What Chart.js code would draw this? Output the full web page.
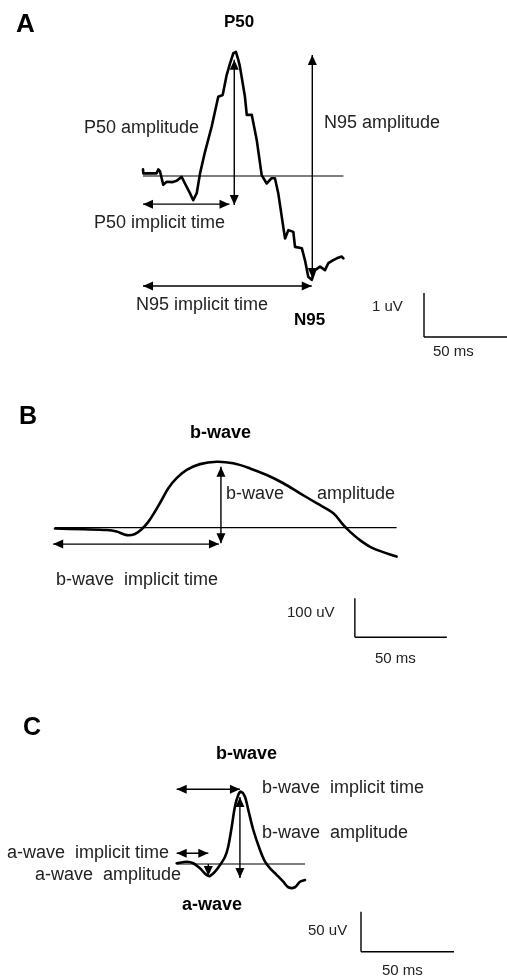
<!doctype html>
<html lang="en">
<head>
  <meta charset="utf-8">
  <title>PERG and ERG measurements</title>
  <script src="https://cdn.jsdelivr.net/npm/chart.js"></script>
  <style>
    html, body { margin: 0; padding: 0; background: #fff; }
    body { width: 507px; height: 978px; position: relative; overflow: hidden; }
    canvas { position: absolute; left: 0; display: block; }
  </style>
</head>
<body>
  <canvas id="panelA" width="507" height="380" style="top:0"></canvas>
  <canvas id="panelB" width="507" height="300" style="top:380px"></canvas>
  <canvas id="panelC" width="507" height="298" style="top:680px"></canvas>
  <script>
    // A: pattern ERG (ms / uV)
    const pergTime = [0, 0.2, 7.4, 8.3, 9.2, 11.0, 12.9, 15.8, 18.3, 21.0, 22.8, 25.5, 27.3, 29.2, 31.0,
      33.7, 37.3, 39.1, 40.9, 43.3, 45.5, 47.3, 49.1, 50.5, 51.8, 52.7, 55.4, 56.4, 59.1, 61.8,
      64.5, 67.2, 69.9, 71.7, 73.5, 76.2, 77.2, 79.0, 81.7, 82.6, 86.3, 88.0, 89.8, 91.7, 93.5,
      96.2, 98.9, 100.7, 103.4, 105.3, 108.0, 108.9];
    const pergVolt = [0.15, 0.06, 0.06, 0.15, 0.11, -0.20, -0.13, -0.14, -0.11, -0.02, -0.17, -0.39, -0.55, -0.39, 0.06,
      0.55, 1.12, 1.46, 1.80, 1.84, 2.30, 2.56, 2.79, 2.82, 2.64, 2.48, 1.80, 1.39, 1.39, 0.82,
      0.02, -0.17, -0.05, -0.05, -0.39, -1.15, -1.42, -1.23, -1.27, -1.61, -1.64, -1.91, -2.29, -2.36, -2.14,
      -2.06, -2.14, -1.98, -1.91, -1.87, -1.83, -1.87];

    // B: flash ERG b-wave (ms / uV)
    const bTime = [0, 15.4, 28.1, 33.5, 39.0, 43.5, 47.1, 50.7, 54.3, 58.0, 61.6, 66.1, 71.6, 78.8,
      87.9, 96.9, 106.0, 115.1, 124.1, 133.2, 142.2, 151.3, 156.7, 160.3, 165.8, 173.0, 185.7];
    const bVolt = [-2, -4, -6, -10, -19, -16, -4, 15, 41, 71, 101, 127, 148, 163,
      169, 165, 152, 135, 114, 88, 63, 37, 7, -10, -32, -53, -74];

    // C: flash ERG a- and b-wave (ms / uV)
    const cTime = [0, 5.4, 8.9, 12.5, 16.1, 17.9, 20.6, 23.3, 26.0, 27.7, 29.6, 31.3, 33.1, 34.6,
      36.7, 38.5, 41.2, 44.8, 47.5, 50.2, 53.8, 57.3, 60.0, 63.6, 66.3, 69.0];
    const cVolt = [0.9, 2.9, 0.9, -5.4, -13.8, -15, -9.6, -1.3, 9.1, 21.6, 46.6, 71.6, 86.3, 90.4,
      84.1, 67.5, 42.5, 17.5, 2.9, -5.4, -13.8, -22.1, -29.1, -29.1, -22.1, -20];

    // measurement arrows [x1, y1, x2, y2, headAtStart, headAtEnd]
    const pergArrows = [
      [49.6, 2.64, 49.6, -0.66, true, true],   // P50 amplitude
      [92.0, 2.75, 92.0, -2.32, true, true],   // N95 amplitude
      [0, -0.64, 47.0, -0.64, true, true],     // P50 implicit time
      [0, -2.5, 91.7, -2.5, true, true]        // N95 implicit time
    ];
    const bArrows = [
      [90.2, 156, 90.2, -40, true, true],
      [-1, -42, 89.1, -42, true, true]
    ];
    const cArrows = [
      [34.0, 83.8, 34.0, -17.5, true, true],
      [0, 93.4, 34.0, 93.4, true, true],
      [0, 13.4, 17.0, 13.4, true, true],
      [17.0, 0, 17.0, -15, false, true]
    ];

    // calibration bars: [ms, uV]
    const pergBar = [50, 1];
    const bBar = [50, 100];
    const cBar = [50, 50];

    const FONT = '"Liberation Sans", Arial, sans-serif';

    function seg(x1, y1, x2, y2, w) {
      return {
        data: [{ x: x1, y: y1 }, { x: x2, y: y2 }],
        borderColor: '#000', borderWidth: w, pointRadius: 0, tension: 0
      };
    }

    function makePanel(id, opt) {
      const trace = opt.time.map((t, i) => ({ x: t, y: opt.volt[i] }));
      const datasets = [{
        data: trace, borderColor: '#000', borderWidth: 2.6, pointRadius: 0,
        tension: opt.tension, borderJoinStyle: 'round', borderCapStyle: 'round'
      }];
      const last = opt.time[opt.time.length - 1];
      datasets.push(seg(0, 0, last, 0, 1.2));
      opt.arrows.forEach(a => datasets.push(seg(a[0], a[1], a[2], a[3], 1.4)));
      const c = opt.barAt;
      datasets.push(seg(c[0], c[1] + opt.bar[1], c[0], c[1], 1.4));
      datasets.push(seg(c[0], c[1], c[0] + opt.bar[0], c[1], 1.4));

      const annot = {
        id: 'annot',
        afterDatasetsDraw(chart) {
          const ctx = chart.ctx, xs = chart.scales.x, ys = chart.scales.y;
          ctx.save();
          ctx.fillStyle = '#000';
          opt.arrows.forEach(a => {
            const p1 = [xs.getPixelForValue(a[0]), ys.getPixelForValue(a[1])];
            const p2 = [xs.getPixelForValue(a[2]), ys.getPixelForValue(a[3])];
            if (a[4]) head(ctx, p1, p2);
            if (a[5]) head(ctx, p2, p1);
          });
          opt.labels.forEach(l => {
            ctx.font = (l.bold ? 'bold ' : '') + l.size + 'px ' + FONT;
            ctx.textAlign = 'left';
            ctx.textBaseline = 'alphabetic';
            ctx.fillStyle = l.bold ? '#000' : '#222';
            ctx.fillText(l.text, l.x, l.y - opt.top);
          });
          ctx.restore();
        }
      };

      return new Chart(document.getElementById(id), {
        type: 'line',
        data: { datasets },
        options: {
          responsive: false, animation: false, events: [],
          layout: { padding: 0 },
          plugins: { legend: { display: false }, tooltip: { enabled: false } },
          scales: {
            x: { type: 'linear', min: opt.x[0], max: opt.x[1], display: false },
            y: { type: 'linear', min: opt.y[0], max: opt.y[1], display: false }
          }
        },
        plugins: [annot]
      });
    }

    // filled arrowhead with its tip at `tip`, pointing away from `from`
    function head(ctx, tip, from) {
      const ang = Math.atan2(tip[1] - from[1], tip[0] - from[0]);
      const len = 10, half = 4.5;
      ctx.beginPath();
      ctx.moveTo(tip[0], tip[1]);
      ctx.lineTo(tip[0] - len * Math.cos(ang) + half * Math.sin(ang), tip[1] - len * Math.sin(ang) - half * Math.cos(ang));
      ctx.lineTo(tip[0] - len * Math.cos(ang) - half * Math.sin(ang), tip[1] - len * Math.sin(ang) + half * Math.cos(ang));
      ctx.closePath();
      ctx.fill();
    }

    makePanel('panelA', {
      time: pergTime, volt: pergVolt, tension: 0, arrows: pergArrows,
      bar: pergBar, barAt: [152.7, -3.66], top: 0,
      x: [-77.7, 197.8], y: [-4.636, 4.0],
      labels: [
        { text: 'A', x: 16, y: 32, size: 26, bold: true },
        { text: 'P50', x: 224, y: 27, size: 17, bold: true },
        { text: 'P50 amplitude', x: 84, y: 133, size: 18 },
        { text: 'N95 amplitude', x: 324, y: 128, size: 18 },
        { text: 'P50 implicit time', x: 94, y: 228, size: 18 },
        { text: 'N95 implicit time', x: 136, y: 310, size: 18 },
        { text: 'N95', x: 294, y: 325, size: 17, bold: true },
        { text: '1 uV', x: 372, y: 311, size: 15 },
        { text: '50 ms', x: 433, y: 356, size: 15 }
      ]
    });

    makePanel('panelB', {
      time: bTime, volt: bVolt, tension: 0.35, arrows: bArrows,
      bar: bBar, barAt: [163, -281], top: 380,
      x: [-29.9, 245.7], y: [-390.5, 378.7],
      labels: [
        { text: 'B', x: 19, y: 424, size: 25, bold: true },
        { text: 'b-wave', x: 190, y: 438, size: 18, bold: true },
        { text: 'b-wave', x: 226, y: 499, size: 18 },
        { text: 'amplitude', x: 317, y: 499, size: 18 },
        { text: 'b-wave  implicit time', x: 56, y: 585, size: 18 },
        { text: '100 uV', x: 287, y: 617, size: 15 },
        { text: '50 ms', x: 375, y: 663, size: 15 }
      ]
    });

    makePanel('panelC', {
      time: cTime, volt: cVolt, tension: 0.3, arrows: cArrows,
      bar: cBar, barAt: [99.1, -109.6], top: 680,
      x: [-95, 177.6], y: [-142.5, 230],
      labels: [
        { text: 'C', x: 23, y: 735, size: 25, bold: true },
        { text: 'b-wave', x: 216, y: 759, size: 18, bold: true },
        { text: 'b-wave  implicit time', x: 262, y: 793, size: 18 },
        { text: 'b-wave  amplitude', x: 262, y: 838, size: 18 },
        { text: 'a-wave  implicit time', x: 7, y: 858, size: 18 },
        { text: 'a-wave  amplitude', x: 35, y: 880, size: 18 },
        { text: 'a-wave', x: 182, y: 910, size: 18, bold: true },
        { text: '50 uV', x: 308, y: 935, size: 15 },
        { text: '50 ms', x: 382, y: 975, size: 15 }
      ]
    });
  </script>
</body>
</html>
